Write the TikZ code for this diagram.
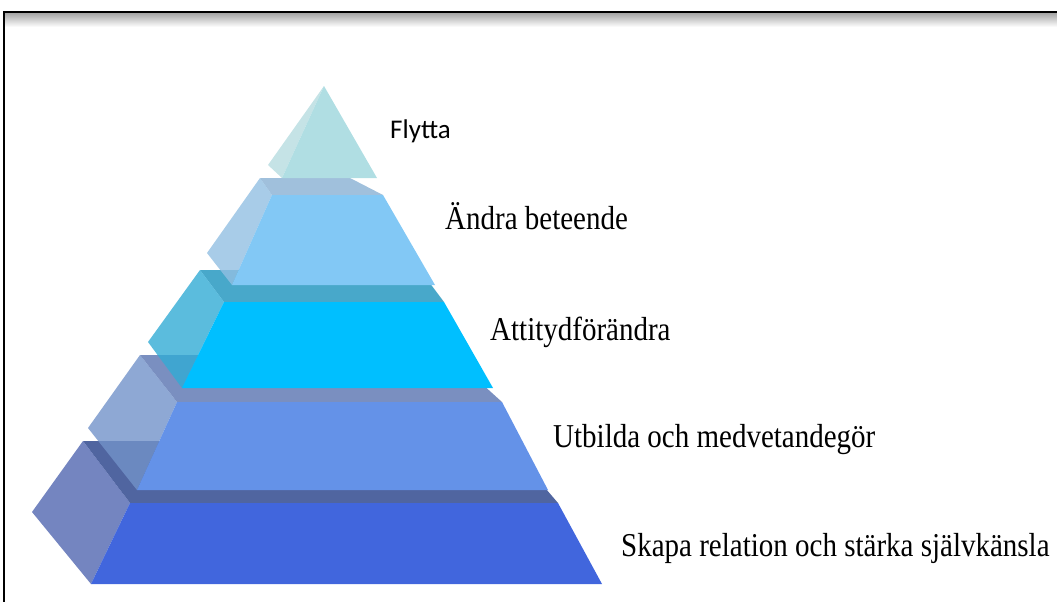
\documentclass[tikz,border=0pt]{standalone}
\usepackage{graphicx}
\usepackage{fontspec}
\setmainfont{Liberation Serif}
\newfontfamily\flyttafont{Carlito}
\newcommand\tallbox[1]{\scalebox{1}[1.15]{#1}}
\definecolor{topA}{HTML}{5065A0}
\definecolor{sideA}{HTML}{5166B0}
\definecolor{frontA}{HTML}{4166DD}
\definecolor{topB}{HTML}{7A8FC0}
\definecolor{sideB}{HTML}{7292C9}
\definecolor{frontB}{HTML}{6492E8}
\definecolor{topC}{HTML}{48A8CA}
\definecolor{sideC}{HTML}{32ABD5}
\definecolor{frontC}{HTML}{00BFFF}
\definecolor{topD}{HTML}{A0C0DC}
\definecolor{sideD}{HTML}{92BFE2}
\definecolor{frontD}{HTML}{82C8F5}
\definecolor{sideE}{HTML}{B6DCE0}
\definecolor{frontE}{HTML}{B0DEE3}
\begin{document}
\begin{tikzpicture}[x=1pt,y=-1pt,
	side/.style={fill=#1,fill opacity=0.8},
	lbl/.style={anchor=base west,inner sep=0pt,font=\fontsize{29}{34}\selectfont}]
	\useasboundingbox (0,0) rectangle (1057,602);
	% frame
	\shade[top color=black!35,bottom color=white] (5,13) rectangle (1057,27);
	\draw[line width=2.5pt] (4,602) |- (1057,12);
	% layer 1
	\fill[topA] (130,503) -- (83,441) -- (505,441) -- (558,503) -- cycle;
	\fill[side=sideA] (83,441) -- (32,512) -- (91,584) -- (130,503) -- cycle;
	\fill[frontA] (91,584) -- (602,584) -- (558,503) -- (130,503) -- cycle;
	% layer 2
	\fill[topB] (177,402) -- (140,355) -- (450,355) -- (502,402) -- cycle;
	\fill[side=sideB] (140,355) -- (88,428) -- (137,490) -- (177,402) -- cycle;
	\fill[frontB] (137,490) -- (548,490) -- (502,402) -- (177,402) -- cycle;
	% layer 3
	\fill[topC] (224,302) -- (200,270) -- (420,270) -- (444,302) -- cycle;
	\fill[side=sideC] (200,270) -- (148,342) -- (182,388) -- (224,302) -- cycle;
	\fill[frontC] (182,388) -- (493,388) -- (444,302) -- (224,302) -- cycle;
	% layer 4
	\fill[topD] (272,195) -- (260,178) -- (350,178) -- (383,195) -- cycle;
	\fill[side=sideD] (260,178) -- (207,253) -- (232,285) -- (272,195) -- cycle;
	\fill[frontD] (232,285) -- (435,285) -- (383,195) -- (272,195) -- cycle;
	% top
	\fill[side=sideE] (324,86) -- (268,165) -- (282,178) -- cycle;
	\fill[frontE] (324,86) -- (377,178) -- (282,178) -- cycle;
	% labels
	\node[lbl,font=\flyttafont\fontsize{27}{32}\selectfont] (flytta) at (390,138) {Flytta};
	\node[lbl] (andra) at (445,229) {\tallbox{Ändra beteende}};
	\node[lbl] (attityd) at (490,340) {\tallbox{Attitydförändra}};
	\node[lbl] (utbilda) at (553,447) {\tallbox{Utbilda och medvetandegör}};
	\node[lbl] (skapa) at (621,556) {\tallbox{Skapa relation och stärka självkänsla}};
\end{tikzpicture}
\end{document}
